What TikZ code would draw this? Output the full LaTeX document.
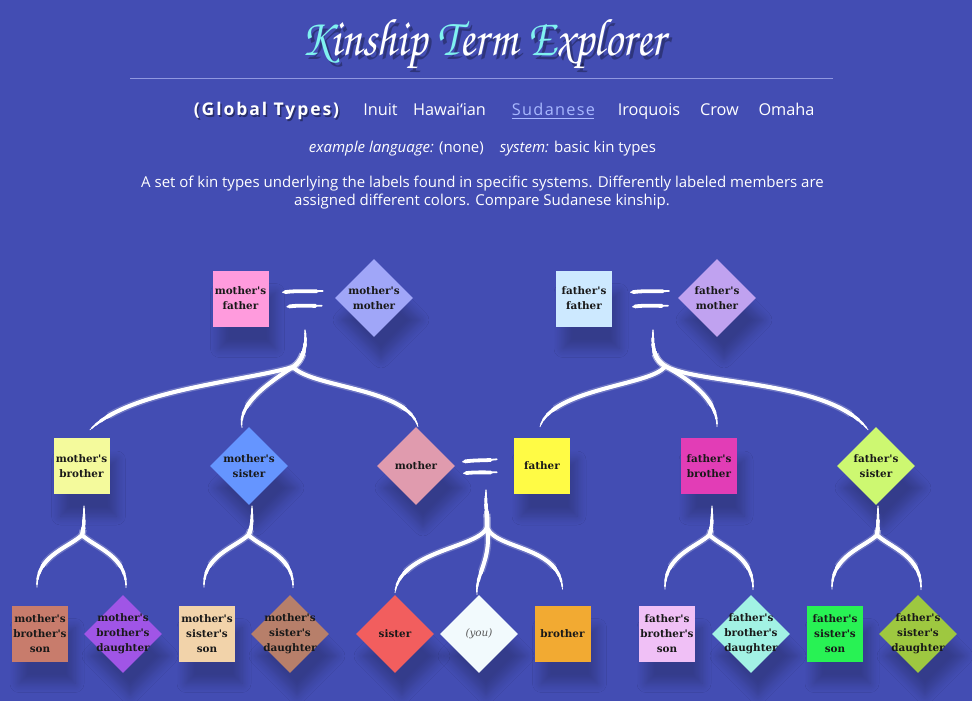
\documentclass[tikz,border=0pt]{standalone}
\usepackage{fontspec}
\setmainfont{Open Sans}
\newfontfamily\kserif[Ligatures=TeXOff]{DejaVu Serif}
\newfontfamily\chorus{texgyrechorus-mediumitalic.otf}
\usetikzlibrary{shapes.geometric,shadows.blur,calc,decorations.pathmorphing}
\definecolor{bg}{HTML}{434DB3}
\definecolor{tcyan}{HTML}{80F2F0}
\definecolor{rulec}{HTML}{9098E0}
\definecolor{sudblue}{HTML}{A8B8FF}
\definecolor{cMF}{HTML}{FF9BDD}
\definecolor{cMM}{HTML}{A0A6F8}
\definecolor{cFF}{HTML}{CDE9FF}
\definecolor{cFM}{HTML}{C0A2F0}
\definecolor{cMB}{HTML}{F4FA9C}
\definecolor{cMS}{HTML}{6595FF}
\definecolor{cMO}{HTML}{E09BAE}
\definecolor{cFA}{HTML}{FFFB45}
\definecolor{cFB}{HTML}{E23DB6}
\definecolor{cFS}{HTML}{CDF871}
\definecolor{cMBS}{HTML}{C87C6C}
\definecolor{cMBD}{HTML}{A055E6}
\definecolor{cMSS}{HTML}{F2D3AA}
\definecolor{cMSD}{HTML}{B77F6A}
\definecolor{cSIS}{HTML}{F25E5E}
\definecolor{cYOU}{HTML}{F2FAFD}
\definecolor{cBRO}{HTML}{F2AA32}
\definecolor{cFBS}{HTML}{F0C0F6}
\definecolor{cFBD}{HTML}{A2F2E4}
\definecolor{cFSS}{HTML}{28F254}
\definecolor{cFSD}{HTML}{9EC840}
\newcommand{\navreg}{\fontsize{16.3}{19}\selectfont}
\newcommand{\navbold}{\bfseries\fontsize{17.5}{20}\selectfont\addfontfeature{LetterSpace=11}}
\newcommand{\titletext}[1]{\scalebox{0.85}[1]{#1}}
\begin{document}
\begin{tikzpicture}[x=1pt,y=-1pt,
  kshadow/.style={blur shadow={shadow xshift=7pt, shadow yshift=-22pt, shadow blur radius=9pt, shadow opacity=22, shadow blur steps=8}},
  ktext/.style={font=\kserif\bfseries\fontsize{10.4}{15}\selectfont, align=center, text=black!90},
  ksq/.style={rectangle, minimum size=56pt, inner sep=0pt, kshadow, ktext},
  kdia/.style={diamond, aspect=1, minimum width=78pt, minimum height=78pt, inner sep=0pt, kshadow},
  nav/.style={anchor=base, inner sep=0pt, text=white},
  tap/.style 2 args={postaction={decorate, draw=white, line width=#1,
    decoration={zigzag, amplitude=0pt, segment length=1.5pt, pre=moveto, pre length=#2, post=moveto, post length=#2}}},
  brush/.style={draw=white, line width=0.8pt, line cap=round, line join=round,
    preaction={decorate, draw=white, draw opacity=0.22, line width=7pt,
      decoration={zigzag, amplitude=0pt, segment length=1.5pt, pre=moveto, pre length=24pt, post=moveto, post length=24pt}},
    tap={1.6pt}{3pt}, tap={2.4pt}{8pt}, tap={3.2pt}{14pt}, tap={4pt}{22pt}},
  eqs/.style={draw=white, line width=1.8pt, line cap=round,
    postaction={draw=white, line width=3.8pt, shorten <=2pt, shorten >=6pt}}]
\fill[bg] (0,0) rectangle (972,701);
\useasboundingbox (0,0) rectangle (972,701);

% title
\node[anchor=base, text=black, text opacity=0.3, font=\chorus\fontsize{53}{56}\selectfont] (titlesh) at (486,59.5) {\titletext{Kinship Term Explorer}};
\node[anchor=base, text=white, font=\chorus\fontsize{53}{56}\selectfont] (title) at (483,56) {\titletext{\textcolor{tcyan}{K}inship \textcolor{tcyan}{T}erm \textcolor{tcyan}{E}xplorer}};
\coordinate (rulel) at (130,78.5);
\coordinate (ruler) at (833,78.5);
\draw[rulec, line width=1pt] (rulel) -- (ruler);

% navigation
\node[nav, text=black, text opacity=0.4, font=\navbold] (globalsh) at (268,117.5) {(Global Types)};
\node[nav, font=\navbold] (global) at (266.5,115.5) {(Global Types)};
\node[nav, font=\navreg] (inuit) at (380.5,115.5) {Inuit};
\node[nav, font=\navreg] (hawaii) at (449.5,115.5) {Hawai‘ian};
\node[nav, font=\navreg\addfontfeature{LetterSpace=8}, text=sudblue] (sud) at (553.5,115.5) {Sudanese};
\draw[sudblue, line width=1pt] ($(sud.base west)+(0,2.5)$) -- ($(sud.base east)+(-1,2.5)$);
\node[nav, font=\navreg] (iroq) at (649,115.5) {Iroquois};
\node[nav, font=\navreg] (crow) at (719.5,115.5) {Crow};
\node[nav, font=\navreg] (omaha) at (786.5,115.5) {Omaha};

\node[nav, font=\fontsize{15}{18}\selectfont] (meta) at (482.5,152) {\textit{example language:} (none)\hspace{16pt}\textit{system:} basic kin types};
\node[nav, font=\fontsize{15}{18}\selectfont] (desc1) at (482.5,187.5) {A set of kin types underlying the labels found in specific systems. Differently labeled members are};
\node[nav, font=\fontsize{15}{18}\selectfont] (desc2) at (482,205.5) {assigned different colors. Compare Sudanese kinship.};

% grandparents
\node[ksq, fill=cMF] (mf) at (240.5,298.5) {mother's\\father};
\node[kdia, fill=cMM, label={[ktext]center:mother's\\mother}] (mm) at (374,298) {};
\node[ksq, fill=cFF] (ff) at (584,298.5) {father's\\father};
\node[kdia, fill=cFM, label={[ktext]center:father's\\mother}] (fm) at (717,298) {};

% parents generation
\node[ksq, fill=cMB] (mb) at (81.5,466) {mother's\\brother};
\node[kdia, fill=cMS, label={[ktext]center:mother's\\sister}] (ms) at (249,466) {};
\node[kdia, fill=cMO, label={[ktext]center:mother}] (mo) at (416,466) {};
\node[ksq, fill=cFA] (fa) at (542,466) {father};
\node[ksq, fill=cFB] (fb) at (709,466) {father's\\brother};
\node[kdia, fill=cFS, label={[ktext]center:father's\\sister}] (fs) at (876,466) {};

% ego generation
\node[ksq, fill=cMBS] (mbs) at (40,633.5) {mother's\\brother's\\son};
\node[kdia, fill=cMBD, label={[ktext]center:mother's\\brother's\\daughter}] (mbd) at (123,634) {};
\node[ksq, fill=cMSS] (mss) at (207,633.5) {mother's\\sister's\\son};
\node[kdia, fill=cMSD, label={[ktext]center:mother's\\sister's\\daughter}] (msd) at (290,634) {};
\node[kdia, fill=cSIS, label={[ktext]center:sister}] (sis) at (395,634) {};
\node[kdia, fill=cYOU, label={[font=\kserif\itshape\fontsize{10.4}{15}\selectfont, text=black!65]center:(you)}] (you) at (479,634) {};
\node[ksq, fill=cBRO] (bro) at (562.5,633.5) {brother};
\node[ksq, fill=cFBS] (fbs) at (667,633.5) {father's\\brother's\\son};
\node[kdia, fill=cFBD, label={[ktext]center:father's\\brother's\\daughter}] (fbd) at (751,634) {};
\node[ksq, fill=cFSS] (fss) at (835,633.5) {father's\\sister's\\son};
\node[kdia, fill=cFSD, label={[ktext]center:father's\\sister's\\daughter}] (fsd) at (918,634) {};

% marriage signs
\draw[eqs] (283,292.3) .. controls (298,290.5) and (310,291.5) .. (322.7,291);
\draw[eqs] (287.3,306.7) .. controls (300,305) and (310,306) .. (321.7,305.7);
\draw[eqs] (631,292.3) .. controls (646,290.5) and (658,291.5) .. (669,291);
\draw[eqs] (633,306.7) .. controls (646,305) and (658,306) .. (668,305.7);
\draw[eqs] (463,461.7) .. controls (475,460) and (485,460.5) .. (496.7,459.3);
\draw[eqs] (464,473.3) .. controls (476,472) and (486,472.5) .. (496.7,472.3);

% branch points
\coordinate (mmstem) at (305,330);
\coordinate (mmsplit) at (293,367);
\coordinate (ffstem) at (653,330);
\coordinate (ffsplit) at (665,366);
\coordinate (mfstem) at (486,490);
\coordinate (mfsplit) at (487,527);
\coordinate (mbstem) at (84,506);
\coordinate (mbsplit) at (82,535);
\coordinate (msstem) at (252,506);
\coordinate (mssplit) at (248.5,535);
\coordinate (fbstem) at (712,506);
\coordinate (fbsplit) at (709.5,535);
\coordinate (fsstem) at (878,506);
\coordinate (fssplit) at (877,535);

% maternal grandparents -> children
\draw[brush] (mmstem) .. controls (307,350) and (301,362) .. (mmsplit) .. controls (240,382) and (130,390) .. ($(mb.north)+(8.5,-8)$);
\draw[brush] (mmstem) .. controls (307,350) and (301,362) .. (mmsplit) .. controls (265,385) and (238,405) .. ($(ms.north)+(-7,1)$);
\draw[brush] (mmstem) .. controls (307,350) and (301,362) .. (mmsplit) .. controls (313,388) and (408,388) .. ($(mo.north)+(2,0)$);
% paternal grandparents -> children
\draw[brush] (ffstem) .. controls (652,350) and (655,360) .. (ffsplit) .. controls (655,385) and (552,388) .. ($(fa.north)+(-2,-11)$);
\draw[brush] (ffstem) .. controls (652,350) and (655,360) .. (ffsplit) .. controls (690,380) and (718,400) .. ($(fb.north)+(8,-11)$);
\draw[brush] (ffstem) .. controls (652,350) and (655,360) .. (ffsplit) .. controls (700,385) and (830,380) .. ($(fs.north)+(-8,3)$);
% parents -> ego generation
\draw[brush] (mfstem) .. controls (485,505) and (488,518) .. (mfsplit) .. controls (480,548) and (400,550) .. ($(sis.north)+(0,-2)$);
\draw[brush] (mfstem) .. controls (485,505) and (488,518) .. (mfsplit) .. controls (492,560) and (475,575) .. ($(you.north)+(-2,0)$);
\draw[brush] (mfstem) .. controls (485,505) and (488,518) .. (mfsplit) .. controls (495,550) and (560,545) .. ($(bro.north)+(0,-16)$);
% aunts and uncles -> cousins
\draw[brush] (mbstem) .. controls (84,520) and (84,528) .. (mbsplit) .. controls (68,548) and (36,556) .. ($(mbs.north)+(-3,-18)$);
\draw[brush] (mbstem) .. controls (84,520) and (84,528) .. (mbsplit) .. controls (96,548) and (127,556) .. ($(mbd.north)+(3,-7)$);
\draw[brush] (msstem) .. controls (252,520) and (252,528) .. (mssplit) .. controls (234,548) and (203,556) .. ($(mss.north)+(-3,-18)$);
\draw[brush] (msstem) .. controls (252,520) and (252,528) .. (mssplit) .. controls (262,548) and (294,556) .. ($(msd.north)+(3,-7)$);
\draw[brush] (fbstem) .. controls (712,520) and (712,528) .. (fbsplit) .. controls (695,548) and (664,556) .. ($(fbs.north)+(-2,-16)$);
\draw[brush] (fbstem) .. controls (712,520) and (712,528) .. (fbsplit) .. controls (723,548) and (754,556) .. ($(fbd.north)+(2,-5)$);
\draw[brush] (fsstem) .. controls (878,520) and (878,528) .. (fssplit) .. controls (863,548) and (831,556) .. ($(fss.north)+(-3,-16)$);
\draw[brush] (fsstem) .. controls (878,520) and (878,528) .. (fssplit) .. controls (891,548) and (922,556) .. ($(fsd.north)+(3,-5)$);
\end{tikzpicture}
\end{document}
